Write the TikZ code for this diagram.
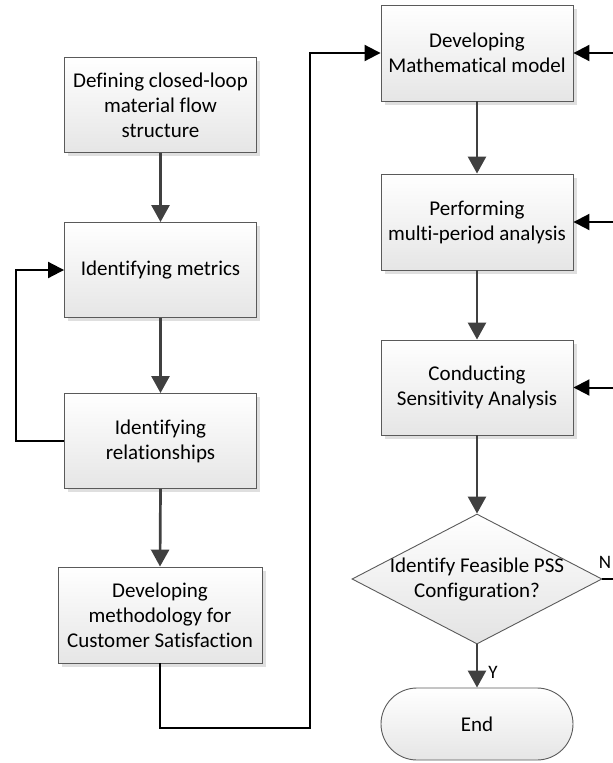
\documentclass[tikz,border=0pt]{standalone}
\usepackage{fontspec}
\setmainfont[Ligatures=NoCommon]{Carlito}
\usetikzlibrary{arrows.meta,shapes.geometric,shapes.misc,shadows}
\definecolor{bord}{HTML}{5A5A5A}
\definecolor{garrow}{HTML}{404040}
\begin{document}
\begin{tikzpicture}[x=1pt,y=-1pt,
  every node/.style={font=\fontsize{21}{25}\selectfont, align=center, inner sep=0pt},
  procbox/.style={rectangle, draw=bord, line width=0.9pt, top color=white, bottom color=gray!20,
    minimum width=192pt, minimum height=95pt,
    drop shadow={shadow xshift=3.5pt, shadow yshift=-3.5pt, fill=gray!25, opacity=1}},
  decbox/.style={diamond, draw=bord, line width=0.9pt, top color=white, bottom color=gray!22,
    minimum width=250pt, minimum height=130pt},
  termbox/.style={rounded rectangle, draw=bord, line width=0.9pt, top color=white, bottom color=gray!20,
    minimum width=192pt, minimum height=72pt},
  flow/.style={draw=garrow, line width=2.7pt, -{Triangle[length=17pt,width=18pt]}},
  loopline/.style={draw=black, line width=2pt, -{Triangle[length=16pt,width=16pt]}},
  plainline/.style={draw=black, line width=2pt},
  lbl/.style={font=\fontsize{19}{20}\selectfont}
]
\useasboundingbox (0,0) rectangle (613,763);
\clip (0,0) rectangle (613,763);

% left column
\node[procbox] (b1) at (160.5,105) {Defining closed-loop\\material flow\\structure};
\node[procbox] (b2) at (160.5,270) {Identifying metrics};
\node[procbox] (b3) at (160.5,441) {Identifying\\relationships};
\node[procbox, minimum width=204pt, minimum height=96pt] (b4) at (160,615) {Developing\\methodology for\\Customer Satisfaction};

% right column
\node[procbox, minimum height=96pt] (m1) at (477,53) {Developing\\Mathematical model};
\node[procbox, minimum height=96pt] (m2) at (477,222) {Performing\\multi-period analysis};
\node[procbox] (m3) at (477,387.5) {Conducting\\Sensitivity Analysis};
\node[decbox] (dia) at (477,579) {};
\node (diatext) at (477,580) {Identify Feasible PSS\\Configuration?};
\node[termbox] (endn) at (477,724) {End};

% coordinates
\coordinate (lx) at (16,441);
\coordinate (bx) at (160,728);
\coordinate (mx) at (310,728);
\coordinate (rx) at (625,579);

% flow arrows
\draw[flow] (b1.south) -- (b2.north);
\draw[flow] (b2.south) -- (b3.north);
\draw[flow] (b3.south) -- (b4.north);
\draw[flow] (m1.south) -- (m2.north);
\draw[flow] (m2.south) -- (m3.north);
\draw[flow] (m3.south) -- (dia.north);
\draw[flow] (dia.south) -- (endn.north);
\node[lbl] (ylab) at (493,672) {Y};

% feedback loops
\draw[loopline] (b3.west) -- (lx) |- (b2.west);
\draw[loopline] (b4.south) -- (bx) -- (mx) |- (m1.west);

% N loop on the right
\draw[plainline] (dia.east) -- (rx) -- (rx |- m1.east);
\draw[loopline] (rx |- m1.east) -- (m1.east);
\draw[loopline] (rx |- m2.east) -- (m2.east);
\draw[loopline] (rx |- m3.east) -- (m3.east);
\node[lbl] (nlab) at (605,562) {N};
\end{tikzpicture}
\end{document}
